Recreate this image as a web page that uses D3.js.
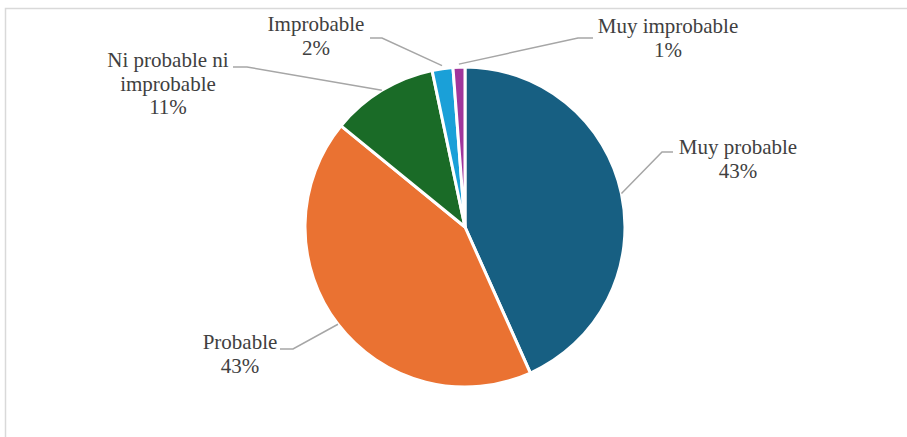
<!DOCTYPE html>
<html><head><meta charset="utf-8">
<script src="https://cdn.jsdelivr.net/npm/d3@7"></script>
<style>
html,body{margin:0;padding:0;background:#fff;}
svg{display:block;}
</style></head>
<body>
<svg id="chart" width="907" height="437"></svg>
<script>
const categories = ["Muy probable","Probable","Ni probable ni improbable","Improbable","Muy improbable"];
const values = [43.3, 42.6, 10.8, 2.1, 1.2];
const percentLabels = ["43%","43%","11%","2%","1%"];
const labelLines = [["Muy probable"],["Probable"],["Ni probable ni","improbable"],["Improbable"],["Muy improbable"]];
const colors = ["#175f82","#ea7232","#1a6b27","#1aa0d8","#a0369c"];

// layout (positions only)
const cx = 465, cy = 227, R = 160;
const labelPos = [
  {x:738, y:154, elbow:[662,152], end:[673,152]},
  {x:240, y:349, elbow:[293,349], end:[280,349]},
  {x:168, y:67,  elbow:[247,67],  end:[233,67]},
  {x:316, y:31,  elbow:[382,38],  end:[370,38]},
  {x:668, y:33,  elbow:[578,38],  end:[593,38]}
];
const FONT = "'Times New Roman', 'Liberation Serif', 'DejaVu Serif', serif";

const svg = d3.select("#chart");
// frame
svg.append("path").attr("d","M5.5,437 L5.5,8.5 L907,8.5")
  .attr("fill","none").attr("stroke","#d9d9d9").attr("stroke-width",1.5);

const data = categories.map((c,i)=>({cat:c, v:values[i], i}));
const pie = d3.pie().value(d=>d.v).sort(null).startAngle(0).endAngle(2*Math.PI);
const arcs = pie(data);
const arc = d3.arc().innerRadius(0).outerRadius(R);
const g = svg.append("g").attr("transform",`translate(${cx},${cy})`);
g.selectAll("path").data(arcs).join("path")
  .attr("d",arc).attr("fill",d=>colors[d.data.i])
  .attr("stroke","#fff").attr("stroke-width",3).attr("stroke-linejoin","round");

// leader lines
arcs.forEach((a,i)=>{
  const mid = (a.startAngle+a.endAngle)/2;
  const r0 = i>=3 ? R+3 : R;
  const sx = cx + r0*Math.sin(mid), sy = cy - r0*Math.cos(mid);
  const lp = labelPos[i];
  svg.append("polyline")
    .attr("points",`${sx},${sy} ${lp.elbow[0]},${lp.elbow[1]} ${lp.end[0]},${lp.end[1]}`)
    .attr("fill","none").attr("stroke","#a6a6a6").attr("stroke-width",1.5);
});

// labels
arcs.forEach((a,i)=>{
  const lp = labelPos[i];
  const lines = labelLines[i].concat([percentLabels[i]]);
  const t = svg.append("text").attr("text-anchor","middle")
    .attr("font-family",FONT).attr("font-size",21).attr("fill","#404040");
  lines.forEach((ln,k)=>{
    t.append("tspan").attr("x",lp.x).attr("y",lp.y + k*23.5).text(ln);
  });
});
</script>
</body></html>
